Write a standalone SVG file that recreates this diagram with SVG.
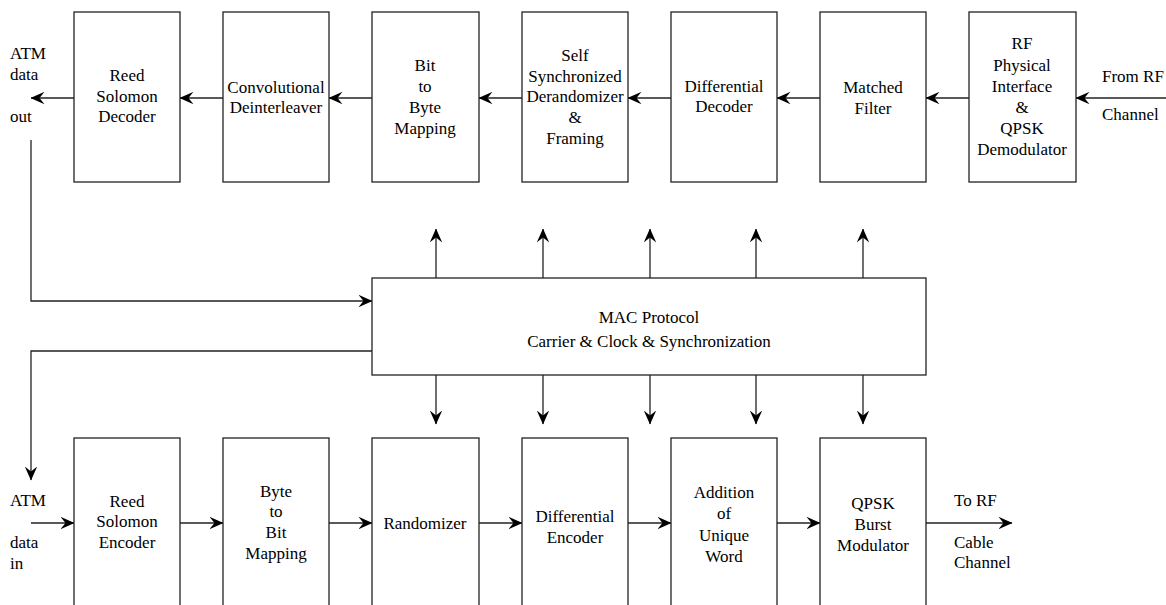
<svg xmlns="http://www.w3.org/2000/svg" width="1166" height="605" viewBox="0 0 1166 605" font-family="Liberation Serif" font-size="17">
<defs>
<style>
.box{fill:#fff;stroke:#222;stroke-width:1.3}
.ln{fill:none;stroke:#222;stroke-width:1.3}
</style>
<marker id="ah" viewBox="0 0 14 13" refX="13.5" refY="6.5" markerWidth="14" markerHeight="13" markerUnits="userSpaceOnUse" orient="auto">
<path d="M14,6.5 L0,0.3 L5,6.5 L0,12.7 Z" fill="#000"/>
</marker>
</defs>
<rect width="1166" height="605" fill="#fff"/>

<g id="connectors">
<path class="ln" d="M223,98H180" marker-end="url(#ah)"/>
<path class="ln" d="M372,98H329" marker-end="url(#ah)"/>
<path class="ln" d="M522,98H479" marker-end="url(#ah)"/>
<path class="ln" d="M671,98H628" marker-end="url(#ah)"/>
<path class="ln" d="M820,98H777" marker-end="url(#ah)"/>
<path class="ln" d="M969,98H926" marker-end="url(#ah)"/>
<path class="ln" d="M1166,98H1076" marker-end="url(#ah)"/>
<path class="ln" d="M74,98H31" marker-end="url(#ah)"/>
<path class="ln" d="M31,140V301H372" marker-end="url(#ah)"/>
<path class="ln" d="M372,351H31V480" marker-end="url(#ah)"/>
<path class="ln" d="M436,278V229" marker-end="url(#ah)"/>
<path class="ln" d="M543,278V229" marker-end="url(#ah)"/>
<path class="ln" d="M650,278V229" marker-end="url(#ah)"/>
<path class="ln" d="M756,278V229" marker-end="url(#ah)"/>
<path class="ln" d="M863,278V229" marker-end="url(#ah)"/>
<path class="ln" d="M436,375V424" marker-end="url(#ah)"/>
<path class="ln" d="M543,375V424" marker-end="url(#ah)"/>
<path class="ln" d="M650,375V424" marker-end="url(#ah)"/>
<path class="ln" d="M756,375V424" marker-end="url(#ah)"/>
<path class="ln" d="M863,375V424" marker-end="url(#ah)"/>
<path class="ln" d="M31,523H74" marker-end="url(#ah)"/>
<path class="ln" d="M180,523H223" marker-end="url(#ah)"/>
<path class="ln" d="M329,523H372" marker-end="url(#ah)"/>
<path class="ln" d="M479,523H522" marker-end="url(#ah)"/>
<path class="ln" d="M628,523H671" marker-end="url(#ah)"/>
<path class="ln" d="M777,523H820" marker-end="url(#ah)"/>
<path class="ln" d="M926,523H1012" marker-end="url(#ah)"/>
</g>

<g id="labels">
<text x="10" y="59">ATM</text>
<text x="10" y="80">data</text>
<text x="10" y="122">out</text>
<text x="1102" y="82">From RF</text>
<text x="1102" y="120">Channel</text>
<text x="10" y="506">ATM</text>
<text x="10" y="548">data</text>
<text x="10" y="569">in</text>
<text x="954" y="506">To RF</text>
<text x="954" y="548">Cable</text>
<text x="954" y="568">Channel</text>
</g>

<g id="rs-decoder"><rect class="box" x="74" y="12" width="106" height="170"/>
<text font-family="Times New Roman, Liberation Serif, serif" text-anchor="middle"><tspan x="127" y="81">Reed</tspan><tspan x="127" y="102">Solomon</tspan><tspan x="127" y="122">Decoder</tspan></text></g>
<g id="conv-deinterleaver"><rect class="box" x="223" y="12" width="106" height="170"/>
<text font-family="Times New Roman, Liberation Serif, serif" text-anchor="middle"><tspan x="276" y="93">Convolutional</tspan><tspan x="276" y="113">Deinterleaver</tspan></text></g>
<g id="bit-to-byte"><rect class="box" x="372" y="12" width="107" height="170"/>
<text font-family="Times New Roman, Liberation Serif, serif" text-anchor="middle"><tspan x="425" y="71">Bit</tspan><tspan x="425" y="92">to</tspan><tspan x="425" y="113">Byte</tspan><tspan x="425" y="134">Mapping</tspan></text></g>
<g id="derandomizer"><rect class="box" x="522" y="12" width="106" height="170"/>
<text font-family="Times New Roman, Liberation Serif, serif" text-anchor="middle"><tspan x="575" y="61">Self</tspan><tspan x="575" y="82">Synchronized</tspan><tspan x="575" y="102">Derandomizer</tspan><tspan x="575" y="123">&amp;</tspan><tspan x="575" y="144">Framing</tspan></text></g>
<g id="diff-decoder"><rect class="box" x="671" y="12" width="106" height="170"/>
<text font-family="Times New Roman, Liberation Serif, serif" text-anchor="middle"><tspan x="724" y="92">Differential</tspan><tspan x="724" y="112">Decoder</tspan></text></g>
<g id="matched-filter"><rect class="box" x="820" y="12" width="106" height="170"/>
<text font-family="Times New Roman, Liberation Serif, serif" text-anchor="middle"><tspan x="873" y="93">Matched</tspan><tspan x="873" y="114">Filter</tspan></text></g>
<g id="rf-demod"><rect class="box" x="969" y="12" width="107" height="170"/>
<text font-family="Times New Roman, Liberation Serif, serif" text-anchor="middle"><tspan x="1022" y="49">RF</tspan><tspan x="1022" y="71">Physical</tspan><tspan x="1022" y="92">Interface</tspan><tspan x="1022" y="113">&amp;</tspan><tspan x="1022" y="134">QPSK</tspan><tspan x="1022" y="155">Demodulator</tspan></text></g>

<g id="mac"><rect class="box" x="372" y="278" width="554" height="97"/>
<text font-family="Times New Roman, Liberation Serif, serif" text-anchor="middle"><tspan x="649" y="323">MAC Protocol</tspan><tspan x="649" y="347">Carrier &amp; Clock &amp; Synchronization</tspan></text></g>

<g id="rs-encoder"><rect class="box" x="74" y="438" width="106" height="180"/>
<text font-family="Times New Roman, Liberation Serif, serif" text-anchor="middle"><tspan x="127" y="507">Reed</tspan><tspan x="127" y="527">Solomon</tspan><tspan x="127" y="548">Encoder</tspan></text></g>
<g id="byte-to-bit"><rect class="box" x="223" y="438" width="106" height="180"/>
<text font-family="Times New Roman, Liberation Serif, serif" text-anchor="middle"><tspan x="276" y="497">Byte</tspan><tspan x="276" y="517">to</tspan><tspan x="276" y="538">Bit</tspan><tspan x="276" y="559">Mapping</tspan></text></g>
<g id="randomizer"><rect class="box" x="372" y="438" width="107" height="180"/>
<text font-family="Times New Roman, Liberation Serif, serif" text-anchor="middle"><tspan x="425" y="529">Randomizer</tspan></text></g>
<g id="diff-encoder"><rect class="box" x="522" y="438" width="106" height="180"/>
<text font-family="Times New Roman, Liberation Serif, serif" text-anchor="middle"><tspan x="575" y="522">Differential</tspan><tspan x="575" y="543">Encoder</tspan></text></g>
<g id="unique-word"><rect class="box" x="671" y="438" width="106" height="180"/>
<text font-family="Times New Roman, Liberation Serif, serif" text-anchor="middle"><tspan x="724" y="498">Addition</tspan><tspan x="724" y="519">of</tspan><tspan x="724" y="541">Unique</tspan><tspan x="724" y="562">Word</tspan></text></g>
<g id="qpsk-mod"><rect class="box" x="820" y="438" width="106" height="180"/>
<text font-family="Times New Roman, Liberation Serif, serif" text-anchor="middle"><tspan x="873" y="509">QPSK</tspan><tspan x="873" y="530">Burst</tspan><tspan x="873" y="551">Modulator</tspan></text></g>
</svg>
